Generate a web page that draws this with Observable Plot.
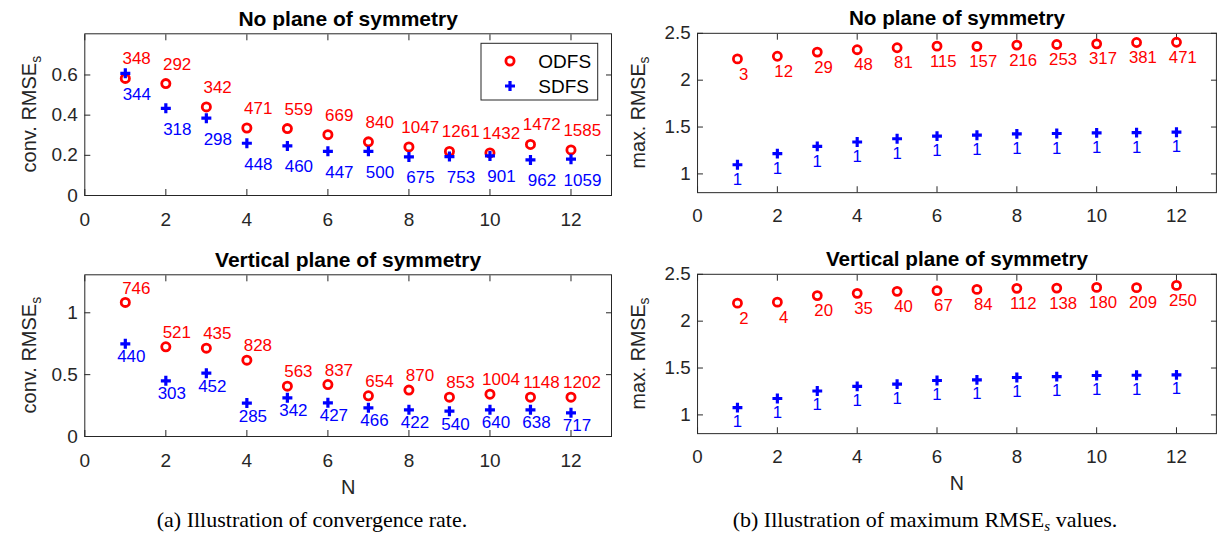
<!DOCTYPE html>
<html>
<head>
<meta charset="utf-8">
<script src="https://cdn.jsdelivr.net/npm/d3@7"></script>
<script src="https://cdn.jsdelivr.net/npm/@observablehq/plot@0.6"></script>
<style>
  html, body { margin: 0; padding: 0; background: #fff; overflow: hidden; }
  #root { position: relative; width: 1223px; height: 539px; overflow: hidden; background: #fff; }
  .panel { position: absolute; }
  .panel svg { overflow: visible; }
  .caption { position: absolute; top: 507px; transform: translateX(-50%); white-space: nowrap;
    font-family: "Liberation Serif", "Times New Roman", serif; font-size: 22px; color: #000; }
</style>
</head>
<body>
<div id="root"></div>
<script>
// ---------------- data ----------------
const nValues = [1, 2, 3, 4, 5, 6, 7, 8, 9, 10, 11, 12];
const xTicks = [0, 2, 4, 6, 8, 10, 12];
const seriesNames = ["ODFS", "SDFS"];
const panelTitles = ["No plane of symmetry", "Vertical plane of symmetry"];
const yLabelConv = "conv. RMSE";
const yLabelMax = "max. RMSE";
const yLabelSub = "s";
const xLabel = "N";
const captionA = "(a) Illustration of convergence rate.";
const captionB = ["(b) Illustration of maximum RMSE", "s", " values."];

// (a) top: convergence, no plane of symmetry
const convNoOdfs = [0.583, 0.557, 0.441, 0.336, 0.333, 0.303, 0.267, 0.242, 0.219, 0.212, 0.254, 0.227];
const convNoOdfsCount = [348, 292, 342, 471, 559, 669, 840, 1047, 1261, 1432, 1472, 1585];
const convNoSdfs = [0.608, 0.434, 0.385, 0.260, 0.247, 0.220, 0.220, 0.192, 0.194, 0.197, 0.177, 0.181];
const convNoSdfsCount = [344, 318, 298, 448, 460, 447, 500, 675, 753, 901, 962, 1059];

// (a) bottom: convergence, vertical plane of symmetry
const convVertOdfs = [1.084, 0.725, 0.714, 0.617, 0.407, 0.420, 0.329, 0.375, 0.318, 0.342, 0.318, 0.318];
const convVertOdfsCount = [746, 521, 435, 828, 563, 837, 654, 870, 853, 1004, 1148, 1202];
const convVertSdfs = [0.749, 0.450, 0.512, 0.270, 0.313, 0.272, 0.232, 0.216, 0.205, 0.216, 0.216, 0.191];
const convVertSdfsCount = [440, 303, 452, 285, 342, 427, 466, 422, 540, 640, 638, 717];

// (b) top: maximum, no plane of symmetry
const maxNoOdfs = [2.227, 2.255, 2.300, 2.325, 2.346, 2.363, 2.360, 2.374, 2.381, 2.388, 2.402, 2.405];
const maxNoOdfsCount = [3, 12, 29, 48, 81, 115, 157, 216, 253, 317, 381, 471];
const maxNoSdfs = [1.098, 1.217, 1.294, 1.340, 1.375, 1.403, 1.413, 1.427, 1.431, 1.438, 1.441, 1.445];
const maxNoSdfsCount = [1, 1, 1, 1, 1, 1, 1, 1, 1, 1, 1, 1];

// (b) bottom: maximum, vertical plane of symmetry
const maxVertOdfs = [2.192, 2.203, 2.273, 2.297, 2.318, 2.325, 2.339, 2.350, 2.353, 2.360, 2.357, 2.381];
const maxVertOdfsCount = [2, 4, 20, 35, 40, 67, 84, 112, 138, 180, 209, 250];
const maxVertSdfs = [1.077, 1.175, 1.255, 1.304, 1.329, 1.367, 1.374, 1.399, 1.409, 1.420, 1.423, 1.427];
const maxVertSdfsCount = [1, 1, 1, 1, 1, 1, 1, 1, 1, 1, 1, 1];

const convTicksTop = [0, 0.2, 0.4, 0.6];
const convTicksBottom = [0, 0.5, 1];
const maxTicks = [1, 1.5, 2, 2.5];
const convDomainTop = [0, 0.805];
const convDomainBottom = [0, 1.307];
const maxDomain = [0.8, 2.5];
const xDomain = [0, 13];

// ---------------- styles ----------------
const RED = "#ff0000", BLUE = "#0000ff", AX = "#262626";
const FONT = "'Liberation Sans', Arial, Helvetica, sans-serif";
const CIRCLE_R = 4.1, CIRCLE_W = 2.8, PLUS_R = 5, PLUS_W = 3.2;
const TICK_FONT = 19;

// MATLAB-like "+" marker: half-length equals the dot radius
const plusSymbol = {
  draw(context, size) {
    const r = Math.sqrt(size / Math.PI);
    context.moveTo(-r, 0); context.lineTo(r, 0);
    context.moveTo(0, -r); context.lineTo(0, r);
  }
};

function rows(vals, counts) { return nValues.map((n, i) => ({n, v: vals[i], c: counts[i]})); }

function makePanel(o) {
  const odfs = rows(o.odfs, o.odfsN), sdfs = rows(o.sdfs, o.sdfsN);
  const marks = [
    Plot.frame({stroke: AX, strokeWidth: 1}),
    Plot.axisX(xTicks, {anchor: "bottom", tickSize: -6, tickPadding: 22.5, label: null, fontSize: TICK_FONT, tickFormat: d => String(d), stroke: AX, fill: AX}),
    Plot.axisX(xTicks, {anchor: "top", tickSize: -6, label: null, tickFormat: () => "", stroke: AX}),
    Plot.axisY(o.yTicks, {anchor: "left", tickSize: -6, tickPadding: 13, label: null, fontSize: TICK_FONT, tickFormat: d => String(d), stroke: AX, fill: AX}),
    Plot.axisY(o.yTicks, {anchor: "right", tickSize: -6, label: null, tickFormat: () => "", stroke: AX}),
    Plot.dot(odfs, {x: "n", y: "v", r: CIRCLE_R, stroke: RED, strokeWidth: CIRCLE_W, fill: "none"}),
    Plot.dot(sdfs, {x: "n", y: "v", symbol: plusSymbol, r: PLUS_R, stroke: BLUE, strokeWidth: PLUS_W, fill: "none"}),
    Plot.text(odfs, {x: "n", y: "v", text: d => String(d.c), dx: o.rdx, dy: o.rdy, fill: RED, fontSize: 17, textAnchor: "middle"}),
    Plot.text(sdfs, {x: "n", y: "v", text: d => String(d.c), dx: o.bdx, dy: o.bdy, fill: BLUE, fontSize: 17, textAnchor: "middle"}),
    Plot.text([o.title], {frameAnchor: "top", lineAnchor: "bottom", dy: -8.3, fontWeight: "bold", fontSize: 21, fill: "#000"})
  ];
  if (o.showN) marks.push(Plot.text([xLabel], {frameAnchor: "bottom", dy: 57, fontSize: 20, fill: AX}));
  const svg = Plot.plot({
    width: o.width, height: o.height,
    marginLeft: o.ml, marginRight: o.mr, marginTop: o.mt, marginBottom: o.mb,
    x: {domain: xDomain}, y: {domain: o.yDomain},
    style: {fontFamily: FONT, fontSize: "19px", color: AX, background: "transparent", overflow: "visible"},
    marks
  });
  const s = d3.select(svg);
  // make sure tick labels use the intended size
  s.selectAll('g[aria-label$="tick label"]').attr("font-size", TICK_FONT).style("font-size", TICK_FONT + "px");
  // y label with subscript
  const cy = o.mt + (o.height - o.mt - o.mb) / 2;
  const t = s.append("text")
    .attr("transform", `translate(${o.ylx},${cy}) rotate(-90)`)
    .attr("text-anchor", "middle")
    .attr("font-family", FONT).attr("font-size", 20).attr("fill", AX);
  t.append("tspan").text(o.ylab);
  t.append("tspan").attr("font-size", 14).attr("dy", 5).text(yLabelSub);
  if (o.legend) {
    const L = o.legend;
    const g = s.append("g").attr("font-family", FONT).attr("font-size", 19).attr("text-anchor", "start");
    g.append("rect").attr("x", L.x).attr("y", L.y).attr("width", L.w).attr("height", L.h)
      .attr("fill", "#fff").attr("stroke", AX).attr("stroke-width", 1);
    g.append("circle").attr("cx", L.sx).attr("cy", L.y1).attr("r", CIRCLE_R)
      .attr("fill", "none").attr("stroke", RED).attr("stroke-width", CIRCLE_W);
    g.append("path").attr("transform", `translate(${L.sx},${L.y2})`)
      .attr("d", d3.symbol(plusSymbol, Math.PI * PLUS_R * PLUS_R)())
      .attr("fill", "none").attr("stroke", BLUE).attr("stroke-width", PLUS_W);
    g.append("text").attr("x", L.tx).attr("y", L.y1).attr("dy", "0.35em").attr("fill", "#000").text(seriesNames[0]);
    g.append("text").attr("x", L.tx).attr("y", L.y2).attr("dy", "0.35em").attr("fill", "#000").text(seriesNames[1]);
  }
  const div = document.createElement("div");
  div.className = "panel";
  div.style.left = o.left + "px";
  div.style.top = o.top + "px";
  div.appendChild(svg);
  document.getElementById("root").appendChild(div);
}

// top-left
makePanel({left: 0, top: 0, width: 620, height: 240, ml: 84.3, mr: 9, mt: 33.3, mb: 45,
  yDomain: convDomainTop, yTicks: convTicksTop, title: panelTitles[0], ylab: yLabelConv, ylx: 36,
  odfs: convNoOdfs, odfsN: convNoOdfsCount, sdfs: convNoSdfs, sdfsN: convNoSdfsCount,
  rdx: 11.3, rdy: -19.5, bdx: 11.5, bdy: 21,
  legend: {x: 481, y: 43.3, w: 116.7, h: 56.7, sx: 510, y1: 61, y2: 86, tx: 538.3}});
// top-right
makePanel({left: 612, top: 0, width: 620, height: 240, ml: 86.3, mr: 7.2, mt: 33.3, mb: 45,
  yDomain: maxDomain, yTicks: maxTicks, title: panelTitles[0], ylab: yLabelMax, ylx: 33,
  odfs: maxNoOdfs, odfsN: maxNoOdfsCount, sdfs: maxNoSdfs, sdfsN: maxNoSdfsCount,
  rdx: 6.4, rdy: 15.5, bdx: 0, bdy: 15});
// bottom-left
makePanel({left: 0, top: 240, width: 620, height: 260, ml: 84.3, mr: 9, mt: 34.3, mb: 64,
  yDomain: convDomainBottom, yTicks: convTicksBottom, title: panelTitles[1], ylab: yLabelConv, ylx: 36,
  odfs: convVertOdfs, odfsN: convVertOdfsCount, sdfs: convVertSdfs, sdfsN: convVertSdfsCount,
  rdx: 11, rdy: -14.3, bdx: 6, bdy: 13, showN: true});
// bottom-right
makePanel({left: 612, top: 240, width: 620, height: 260, ml: 86.3, mr: 7.2, mt: 34.3, mb: 64,
  yDomain: maxDomain, yTicks: maxTicks, title: panelTitles[1], ylab: yLabelMax, ylx: 33,
  odfs: maxVertOdfs, odfsN: maxVertOdfsCount, sdfs: maxVertSdfs, sdfsN: maxVertSdfsCount,
  rdx: 6.5, rdy: 15.5, bdx: 0, bdy: 14.3, showN: true});

// captions
const root = document.getElementById("root");
const ca = document.createElement("div");
ca.className = "caption"; ca.style.left = "312px"; ca.textContent = captionA;
root.appendChild(ca);
const cb = document.createElement("div");
cb.className = "caption"; cb.style.left = "925px";
cb.appendChild(document.createTextNode(captionB[0]));
const sub = document.createElement("sub");
sub.style.fontStyle = "italic"; sub.style.fontSize = "15px"; sub.style.verticalAlign = "-4px";
sub.textContent = captionB[1];
cb.appendChild(sub);
cb.appendChild(document.createTextNode(captionB[2]));
root.appendChild(cb);
</script>
</body>
</html>
